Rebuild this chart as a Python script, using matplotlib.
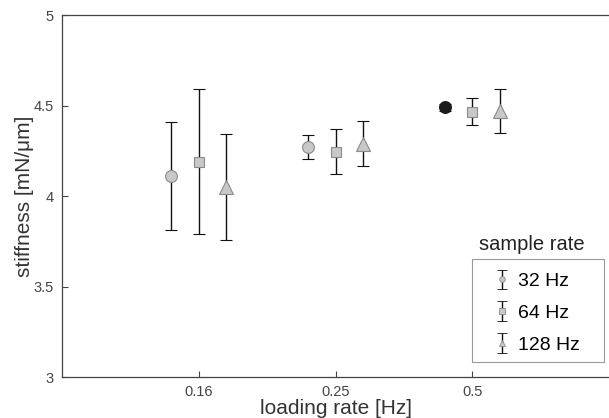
import matplotlib
matplotlib.use("Agg")
import matplotlib.pyplot as plt
from matplotlib.patches import Rectangle

plt.rcParams['font.family'] = ['Liberation Sans', 'DejaVu Sans']

# data
loading_rates = ['0.16', '0.25', '0.5']
sample_rates = ['32 Hz', '64 Hz', '128 Hz']
stiffness = {
    '32 Hz':  [4.11, 4.27, 4.49],
    '64 Hz':  [4.19, 4.245, 4.465],
    '128 Hz': [4.05, 4.29, 4.47],
}
stiffness_err = {
    '32 Hz':  [0.30, 0.065, 0.02],
    '64 Hz':  [0.40, 0.125, 0.075],
    '128 Hz': [0.295, 0.125, 0.12],
}

markers = {'32 Hz': 'o', '64 Hz': 's', '128 Hz': '^'}
sizes = {'32 Hz': 8.5, '64 Hz': 6.5, '128 Hz': 9.5}
offsets = {'32 Hz': -0.2, '64 Hz': 0.0, '128 Hz': 0.2}

fig = plt.figure(figsize=(6.09, 4.18), dpi=100)
ax = fig.add_axes([0.102, 0.098, 0.898, 0.866])

for sr in sample_rates:
    for i, (y, e) in enumerate(zip(stiffness[sr], stiffness_err[sr])):
        face = '#c8c8c8'
        edge = '#8a8a8a'
        # the 32 Hz / 0.5 Hz point is drawn dark in the original
        if sr == '32 Hz' and i == 2:
            face = '#1a1a1a'
            edge = '#1a1a1a'
        ax.errorbar(i + 1 + offsets[sr], y, yerr=e, fmt=markers[sr], ms=sizes[sr],
                    mfc=face, mec=edge, mew=0.8, ecolor='#111111', elinewidth=1.0,
                    capsize=4, capthick=1.0, zorder=3)

# legend handles: small markers with error bars (nan point so nothing is drawn)
handles = []
for sr in sample_rates:
    h = ax.errorbar([float('nan')], [float('nan')], yerr=[0.1], fmt=markers[sr], ms=4,
                    mfc='#c8c8c8', mec='#8a8a8a', mew=0.6, ecolor='#111111',
                    elinewidth=1.0, capsize=3.5, capthick=1.0, label=sr)
    handles.append(h)
leg = ax.legend(handles=handles, loc='upper left', bbox_to_anchor=(0.7865, 0.289),
                fontsize=14, frameon=False, handlelength=1.0,
                handletextpad=0.31, borderpad=0, labelspacing=0.73,
                borderaxespad=0)
# legend frame drawn separately so the padding matches the original
ax.add_patch(Rectangle((0.75, 0.0414), 0.241, 0.2845, transform=ax.transAxes,
                       fill=False, edgecolor='#999999', linewidth=0.8, zorder=4))
ax.text(0.858, 0.365, 'sample rate', transform=ax.transAxes, fontsize=14.5,
        ha='center', va='center', color='#222222')

ax.set_xlim(0, 4)
ax.set_ylim(3, 5)
ax.set_xticks([1, 2, 3])
ax.set_xticklabels(loading_rates)
ax.set_yticks([3, 3.5, 4, 4.5, 5])
ax.set_yticklabels(['3', '3.5', '4', '4.5', '5'])
ax.tick_params(direction='in', length=4, colors='#444444', labelsize=10.5, width=0.8)
ax.tick_params(axis='x', pad=6)
ax.tick_params(axis='y', pad=6)
ax.spines['right'].set_visible(False)
for s in ['left', 'bottom', 'top']:
    ax.spines[s].set_color('#444444')
    ax.spines[s].set_linewidth(0.9)

ax.set_xlabel('loading rate [Hz]', fontsize=15, color='#333333', labelpad=0)
ax.set_ylabel('stiffness [mN/\u03bcm]', fontsize=15, color='#333333', labelpad=0)

fig.savefig('out.png', dpi=100)
